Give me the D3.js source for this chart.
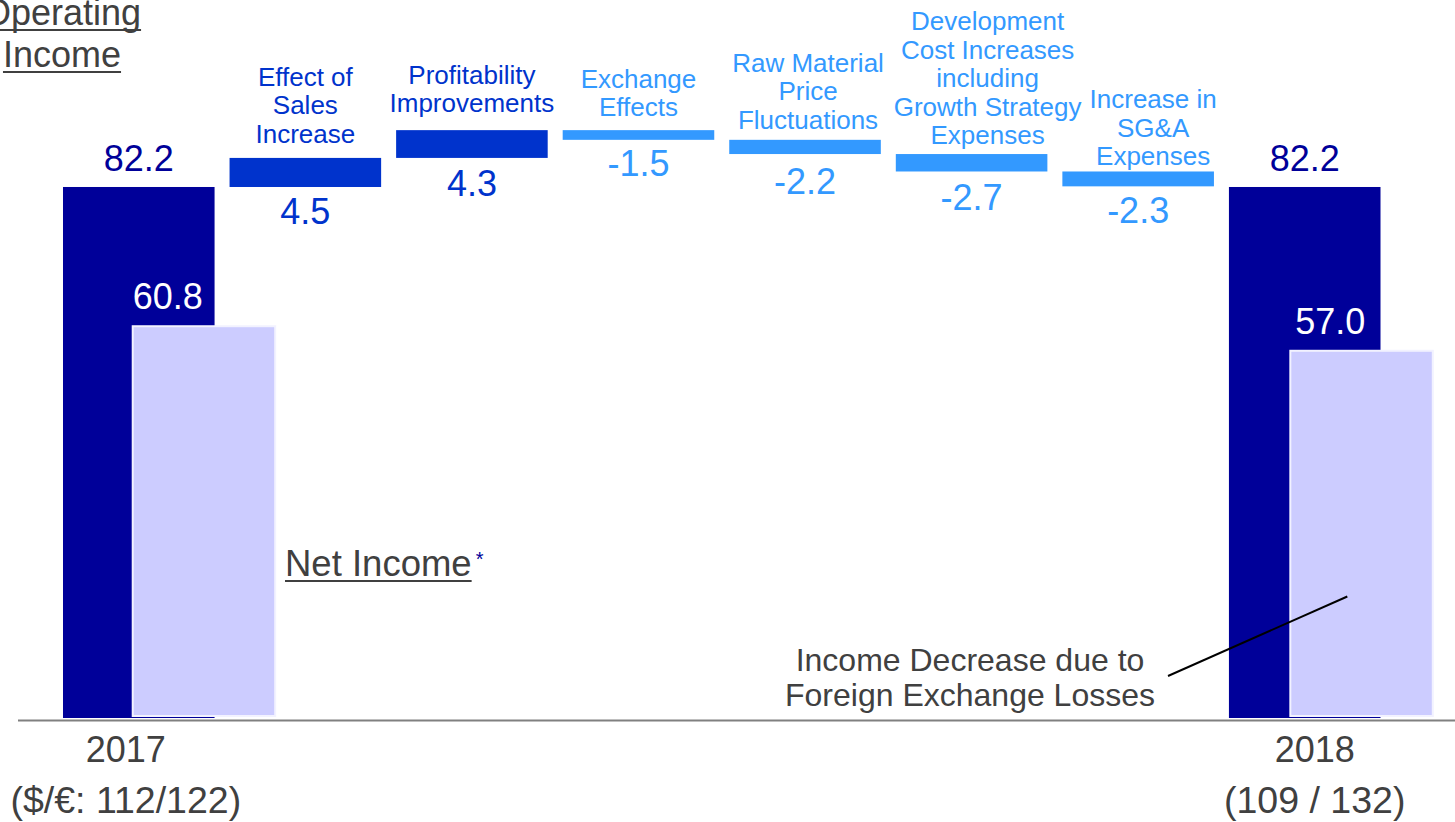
<!DOCTYPE html>
<html>
<head>
<meta charset="utf-8">
<script src="https://cdn.jsdelivr.net/npm/d3@7/dist/d3.min.js"></script>
<style>
  html, body { margin: 0; padding: 0; background: #ffffff; overflow: hidden; }
  svg { display: block; font-family: "Liberation Sans", Arial, sans-serif; }
</style>
</head>
<body>
<svg id="chart" width="1455" height="822"></svg>
<script>
// ---- data -------------------------------------------------------------
const years = ["2017", "2018"];
const rateLabels = ["($/\u20AC: 112/122)", "(109 / 132)"];
const operatingIncome = [82.2, 82.2];
const netIncome = [60.8, 57.0];

const stepLabels = [
  ["Effect of", "Sales", "Increase"],
  ["Profitability", "Improvements"],
  ["Exchange", "Effects"],
  ["Raw Material", "Price", "Fluctuations"],
  ["Development", "Cost Increases", "including", "Growth Strategy", "Expenses"],
  ["Increase in", "SG&A", "Expenses"]
];
const stepValues = [4.5, 4.3, -1.5, -2.2, -2.7, -2.3];

// ---- layout -----------------------------------------------------------
const W = 1455, H = 822;
const baseY = 718;
const colors = {
  total: "#000099",
  up: "#0033cc",
  down: "#3399ff",
  net: "#ccccff",
  text: "#404040",
  axis: "#808080"
};
// small nudges for the multi-line step captions: [dx, gap above bar]
const captionNudge = [[0, 15], [0, 18], [0, 14], [3, 11], [16, 10], [15, 6]];
const captionLine = 28.5;
// nudges for the value labels under the step bars
const valueGap = [37, 38, 36, 40, 39, 37];

const svg = d3.select("#chart");

// one slot per column: opening total, six steps, closing total
const slots = ["open", ...stepLabels.map((d, i) => "s" + i), "close"];
const x = d3.scaleBand()
  .domain(slots)
  .range([55.5, 1388])
  .paddingInner(0.09)
  .paddingOuter(0.045);
const y = d3.scaleLinear().domain([0, 100]).range([baseY, 72]);
const bw = x.bandwidth();

// waterfall segments from the running total
let running = operatingIncome[0];
const steps = stepValues.map((v, i) => {
  const from = running;
  running = +(running + v).toFixed(1);
  return { key: "s" + i, value: v, lo: Math.min(from, running), hi: Math.max(from, running), lines: stepLabels[i] };
});

const totals = [
  { key: "open", value: operatingIncome[0], net: netIncome[0], year: years[0], rate: rateLabels[0], yearDx: -13, netDx: 0.46, labelDx: 0 },
  { key: "close", value: operatingIncome[1], net: netIncome[1], year: years[1], rate: rateLabels[1], yearDx: 10, netDx: 0.405, labelDx: 5 }
];

// ---- axis baseline ----------------------------------------------------
svg.append("line")
  .attr("x1", 18).attr("x2", W)
  .attr("y1", baseY + 2.5).attr("y2", baseY + 2.5)
  .attr("stroke", colors.axis).attr("stroke-width", 2);

// ---- total bars (operating income) -----------------------------------
svg.selectAll("rect.total").data(totals).join("rect")
  .attr("class", "total")
  .attr("x", d => x(d.key))
  .attr("width", bw)
  .attr("y", d => y(d.value))
  .attr("height", d => y(0) - y(d.value))
  .attr("fill", colors.total);

svg.selectAll("text.totalLabel").data(totals).join("text")
  .attr("class", "totalLabel")
  .attr("x", d => x(d.key) + bw / 2)
  .attr("y", d => y(d.value) - 16)
  .attr("text-anchor", "middle")
  .attr("font-size", 36)
  .attr("fill", colors.total)
  .text(d => d.value.toFixed(1));

// ---- net income bars overlapping the totals -------------------------
const netWidth = bw * 0.94;
const netX = d => x(d.key) + bw * d.netDx;
svg.selectAll("rect.net").data(totals).join("rect")
  .attr("class", "net")
  .attr("x", netX)
  .attr("width", netWidth)
  .attr("y", d => y(d.net) + 1)
  .attr("height", d => y(0) - y(d.net) - 3)
  .attr("fill", colors.net)
  .attr("stroke", "#f2f2ff")
  .attr("stroke-width", 2);

svg.selectAll("text.netLabel").data(totals).join("text")
  .attr("class", "netLabel")
  .attr("x", d => netX(d) + d.labelDx)
  .attr("y", d => y(d.net) - 16)
  .attr("font-size", 36)
  .attr("fill", "#ffffff")
  .text(d => d.net.toFixed(1));

// ---- waterfall steps -------------------------------------------------
svg.selectAll("rect.step").data(steps).join("rect")
  .attr("class", "step")
  .attr("x", d => x(d.key))
  .attr("width", bw)
  .attr("y", d => y(d.hi))
  .attr("height", d => y(d.lo) - y(d.hi))
  .attr("fill", d => d.value >= 0 ? colors.up : colors.down);

svg.selectAll("text.stepValue").data(steps).join("text")
  .attr("class", "stepValue")
  .attr("x", d => x(d.key) + bw / 2)
  .attr("y", (d, i) => y(d.lo) + valueGap[i])
  .attr("text-anchor", "middle")
  .attr("font-size", 36)
  .attr("fill", d => d.value >= 0 ? colors.up : colors.down)
  .text(d => d.value.toFixed(1));

const captions = svg.selectAll("text.caption").data(steps).join("text")
  .attr("class", "caption")
  .attr("text-anchor", "middle")
  .attr("font-size", 26)
  .attr("fill", d => d.value >= 0 ? colors.up : colors.down);

captions.each(function (d, i) {
  const t = d3.select(this);
  const n = d.lines.length;
  const cx = x(d.key) + bw / 2 + captionNudge[i][0];
  const lastBase = y(d.hi) - captionNudge[i][1];
  d.lines.forEach((line, j) => {
    t.append("tspan")
      .attr("x", cx)
      .attr("y", lastBase - (n - 1 - j) * captionLine)
      .text(line);
  });
});

// ---- year / exchange-rate labels -------------------------------------
svg.selectAll("text.year").data(totals).join("text")
  .attr("class", "year")
  .attr("x", d => x(d.key) + bw / 2 + d.yearDx)
  .attr("y", 762)
  .attr("text-anchor", "middle")
  .attr("font-size", 36)
  .attr("fill", colors.text)
  .text(d => d.year);

svg.selectAll("text.rate").data(totals).join("text")
  .attr("class", "rate")
  .attr("x", d => x(d.key) + bw / 2 + d.yearDx)
  .attr("y", 813)
  .attr("text-anchor", "middle")
  .attr("font-size", 37.5)
  .attr("fill", colors.text)
  .text(d => d.rate);

// ---- underlined headings ---------------------------------------------
function underlined(txt, px, py, anchor, size) {
  const t = svg.append("text")
    .attr("x", px).attr("y", py)
    .attr("text-anchor", anchor)
    .attr("font-size", size)
    .attr("fill", colors.text)
    .text(txt);
  const bb = t.node().getBBox();
  svg.append("line")
    .attr("x1", bb.x).attr("x2", bb.x + bb.width)
    .attr("y1", py + 5).attr("y2", py + 5)
    .attr("stroke", colors.text).attr("stroke-width", 2);
  return bb;
}

underlined("Operating", 62, 25, "middle", 36);
underlined("Income", 62, 67, "middle", 36);

const netBox = underlined("Net Income", 285, 576, "start", 36.5);
svg.append("text")
  .attr("x", netBox.x + netBox.width + 4)
  .attr("y", 566)
  .attr("font-size", 20)
  .attr("fill", colors.total)
  .text("*");

// ---- annotation -------------------------------------------------------
svg.append("text")
  .attr("x", 970).attr("y", 671)
  .attr("text-anchor", "middle")
  .attr("font-size", 32)
  .attr("fill", colors.text)
  .text("Income Decrease due to");
svg.append("text")
  .attr("x", 970).attr("y", 706)
  .attr("text-anchor", "middle")
  .attr("font-size", 32)
  .attr("fill", colors.text)
  .text("Foreign Exchange Losses");

const closeNet = totals[1];
svg.append("line")
  .attr("x1", 1168).attr("y1", 676)
  .attr("x2", netX(closeNet) + netWidth * 0.4).attr("y2", y(closeNet.net * 0.33))
  .attr("stroke", "#000000").attr("stroke-width", 2);
</script>
</body>
</html>
